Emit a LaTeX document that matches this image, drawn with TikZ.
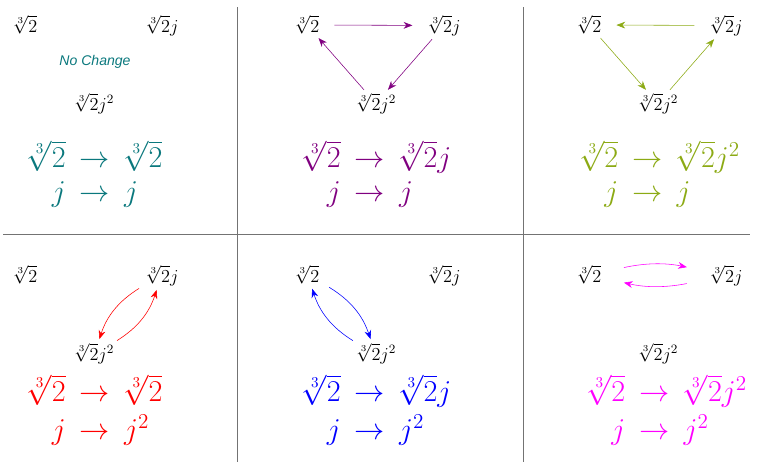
\RequirePackage{fix-cm}
\documentclass[tikz,border=0pt]{standalone}
\usepackage{amsmath}
\usepackage{fontspec}
\newfontfamily\notefont{Liberation Sans}
\usetikzlibrary{positioning,arrows.meta}
\definecolor{lila}{RGB}{128,0,128}
\definecolor{olivgruen}{RGB}{140,170,20}
\definecolor{petrol}{RGB}{10,120,125}
\definecolor{pink}{RGB}{255,0,255}
\tikzset{
  root/.style    = {font=\fontsize{13}{15}\selectfont, inner xsep=8pt, inner ysep=0.5pt, anchor=base},
  mapping/.style = {font=\fontsize{21.5}{24}\selectfont, inner sep=0pt},
  note/.style    = {font=\notefont\itshape\fontsize{10}{12}\selectfont, text=petrol},
  perm/.style    = {-{Stealth[length=2.2mm,width=1.7mm]}, thin, shorten <=2.5pt, shorten >=2.5pt},
  divider/.style = {draw=gray!90!black, line width=0.6pt}
}

\begin{document}
\begin{tikzpicture}[x=0.025cm, y=-0.025cm]
  \useasboundingbox (0,0) rectangle (760,462);

  % dividers
  \draw[divider] (237,7) -- (237,462);
  \draw[divider] (523,7) -- (523,462);
  \draw[divider] (3,234) -- (750,234);

  % top left: identity
  \begin{scope}
    \node[root] (r1) at (25,32) {$\sqrt[3]{2}$};
    \node[root] (rj1) at (162,32) {$\sqrt[3]{2}j$};
    \node[root] (rjj1) at (94,110) {$\sqrt[3]{2}j^2$};
    \node[note] (nc) at (95,62) {No Change};
    \node[mapping, text=petrol] (m1) at (95,176)
      {$\begin{array}{rcl} \sqrt[3]{2} & \rightarrow & \sqrt[3]{2}\\ j & \rightarrow & j \end{array}$};
  \end{scope}

  % top middle
  \begin{scope}[shift={(282,0)}]
    \node[root] (r2) at (25,32) {$\sqrt[3]{2}$};
    \node[root] (rj2) at (162,32) {$\sqrt[3]{2}j$};
    \node[root] (rjj2) at (94,110) {$\sqrt[3]{2}j^2$};
    \node[mapping, text=lila] (m2) at (95,176)
      {$\begin{array}{rcl} \sqrt[3]{2} & \rightarrow & \sqrt[3]{2}j\\ j & \rightarrow & j \end{array}$};
    \draw[perm, lila] (r2) -- (rj2);
    \draw[perm, lila] (rj2) -- (rjj2);
    \draw[perm, lila] (rjj2) -- (r2);
  \end{scope}

  % top right
  \begin{scope}[shift={(564,0)}]
    \node[root] (r3) at (25,32) {$\sqrt[3]{2}$};
    \node[root] (rj3) at (162,32) {$\sqrt[3]{2}j$};
    \node[root] (rjj3) at (94,110) {$\sqrt[3]{2}j^2$};
    \node[mapping, text=olivgruen] (m3) at (96,176)
      {$\begin{array}{rcl} \sqrt[3]{2} & \rightarrow & \sqrt[3]{2}j^2\\ j & \rightarrow & j \end{array}$};
    \draw[perm, olivgruen] (rj3) -- (r3);
    \draw[perm, olivgruen] (r3) -- (rjj3);
    \draw[perm, olivgruen] (rjj3) -- (rj3);
  \end{scope}

  % bottom left
  \begin{scope}[shift={(0,250)}]
    \node[root] (r4) at (25,32) {$\sqrt[3]{2}$};
    \node[root] (rj4) at (162,32) {$\sqrt[3]{2}j$};
    \node[root] (rjj4) at (94,110) {$\sqrt[3]{2}j^2$};
    \node[mapping, text=red] (m4) at (95,162)
      {$\begin{array}{rcl} \sqrt[3]{2} & \rightarrow & \sqrt[3]{2}\\[2pt] j & \rightarrow & j^2 \end{array}$};
    \draw[perm, red] (rj4) to[bend right=20] (rjj4);
    \draw[perm, red] (rjj4) to[bend right=20] (rj4);
  \end{scope}

  % bottom middle
  \begin{scope}[shift={(282,250)}]
    \node[root] (r5) at (25,32) {$\sqrt[3]{2}$};
    \node[root] (rj5) at (162,32) {$\sqrt[3]{2}j$};
    \node[root] (rjj5) at (94,110) {$\sqrt[3]{2}j^2$};
    \node[mapping, text=blue] (m5) at (95,162)
      {$\begin{array}{rcl} \sqrt[3]{2} & \rightarrow & \sqrt[3]{2}j\\[2pt] j & \rightarrow & j^2 \end{array}$};
    \draw[perm, blue] (r5) to[bend left=20] (rjj5);
    \draw[perm, blue] (rjj5) to[bend left=20] (r5);
  \end{scope}

  % bottom right
  \begin{scope}[shift={(564,250)}]
    \node[root] (r6) at (25,32) {$\sqrt[3]{2}$};
    \node[root] (rj6) at (162,32) {$\sqrt[3]{2}j$};
    \node[root] (rjj6) at (94,110) {$\sqrt[3]{2}j^2$};
    \node[mapping, text=pink] (m6) at (103,162)
      {$\begin{array}{rcl} \sqrt[3]{2} & \rightarrow & \sqrt[3]{2}j^2\\[2pt] j & \rightarrow & j^2 \end{array}$};
    \draw[perm, pink, shorten <=8pt, shorten >=8pt] (r6) to[bend left=12] (rj6);
    \draw[perm, pink, shorten <=8pt, shorten >=8pt] (rj6) to[bend left=12] (r6);
  \end{scope}
\end{tikzpicture}
\end{document}
